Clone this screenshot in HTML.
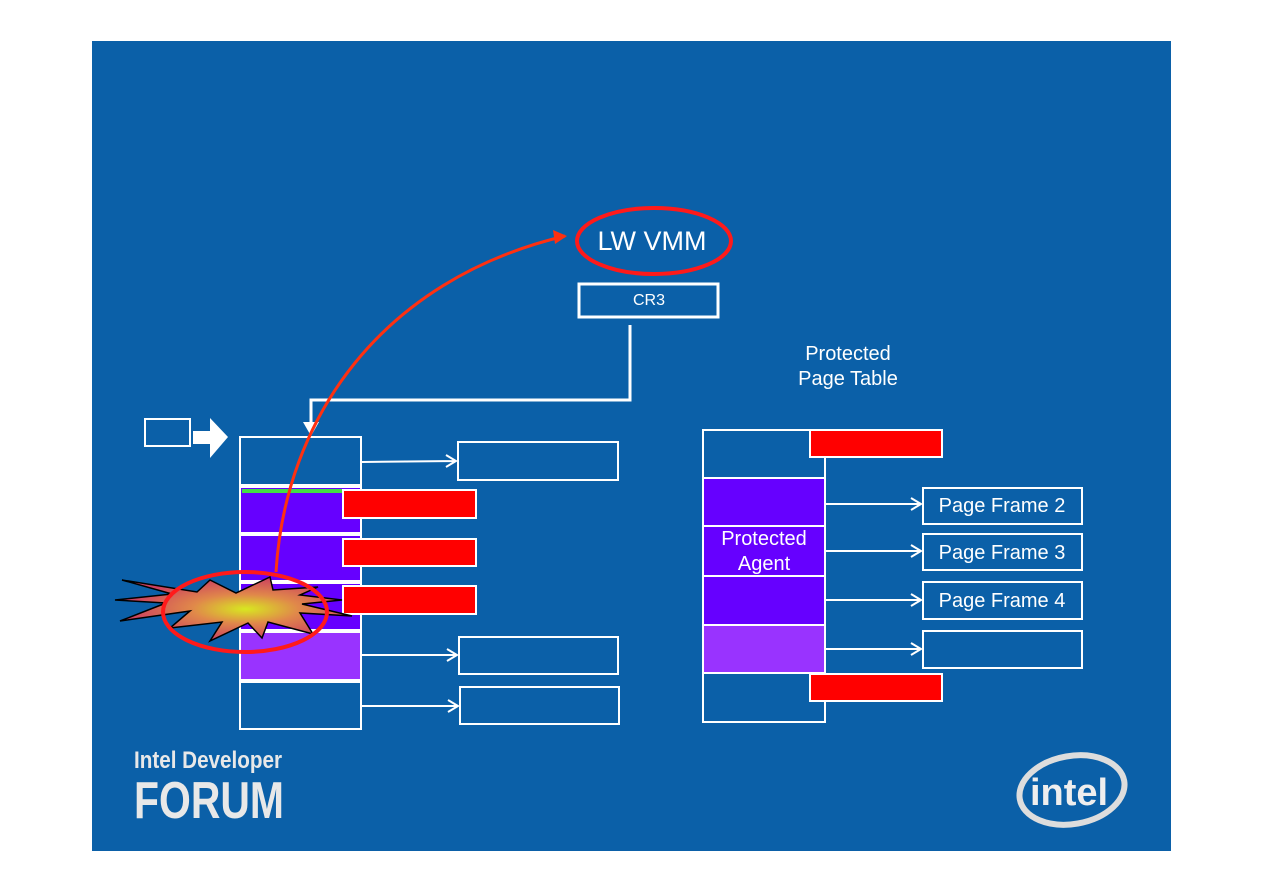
<!DOCTYPE html>
<html><head><style>
body{margin:0;background:#fff;width:1263px;height:893px;overflow:hidden}
svg{position:absolute;left:0;top:0}
text{font-family:"Liberation Sans",sans-serif;fill:#fff}
</style></head><body>
<svg width="1263" height="893">
<defs>
<radialGradient id="g" cx="0.55" cy="0.5" r="0.5"><stop offset="0" stop-color="#d8e820"/><stop offset="0.45" stop-color="#e0884a"/><stop offset="1" stop-color="#cc4060"/></radialGradient>
</defs>
<rect x="92" y="41" width="1079" height="810" fill="#0b60a8"/>
<g stroke="#fff" stroke-width="2">
<rect x="240" y="437" width="121" height="48" fill="none"/>
<rect x="240" y="487" width="121" height="46" fill="#6600ff"/>
<rect x="240" y="535" width="121" height="46" fill="#6600ff"/>
<rect x="240" y="583" width="121" height="47" fill="#6600ff"/>
<rect x="240" y="632" width="121" height="48" fill="#9933ff"/>
<rect x="240" y="682" width="121" height="47" fill="none"/>
</g>
<rect x="242" y="489" width="117" height="4" fill="#44dd44"/>
<g stroke="#fff" stroke-width="2">
<rect x="458" y="442" width="160" height="38" fill="none"/>
<rect x="459" y="637" width="159" height="37" fill="none"/>
<rect x="460" y="687" width="159" height="37" fill="none"/>
<rect x="145" y="419" width="45" height="27" fill="none"/>
<rect x="579" y="284" width="139" height="33" fill="none" stroke-width="3"/>
<rect x="703" y="430" width="122" height="48" fill="none"/>
<rect x="703" y="478" width="122" height="48" fill="#6600ff"/>
<rect x="703" y="526" width="122" height="50" fill="#6600ff"/>
<rect x="703" y="576" width="122" height="49" fill="#6600ff"/>
<rect x="703" y="625" width="122" height="48" fill="#9933ff"/>
<rect x="703" y="673" width="122" height="49" fill="none"/>
<rect x="923" y="488" width="159" height="36" fill="none"/>
<rect x="923" y="534" width="159" height="36" fill="none"/>
<rect x="923" y="582" width="159" height="37" fill="none"/>
<rect x="923" y="631" width="159" height="37" fill="none"/>
</g>
<g fill="#ff0000" stroke="#fff" stroke-width="2">
<rect x="343" y="490" width="133" height="28"/>
<rect x="343" y="539" width="133" height="27"/>
<rect x="343" y="586" width="133" height="28"/>
<rect x="810" y="430" width="132" height="27"/>
<rect x="810" y="674" width="132" height="27"/>
</g>
<g stroke="#fff" stroke-width="2" fill="none">
<path d="M362 462 L456 461 M446 455 L456 461 L446 467"/>
<path d="M362 655 L457 655 M447 649 L457 655 L447 661"/>
<path d="M362 706 L458 706 M448 700 L458 706 L448 712"/>
<path d="M826 504 L921 504 M911 498 L921 504 L911 510"/>
<path d="M826 551 L921 551 M911 545 L921 551 L911 557"/>
<path d="M826 600 L921 600 M911 594 L921 600 L911 606"/>
<path d="M826 649 L921 649 M911 643 L921 649 L911 655"/>
<path d="M630 325 L630 400 L311 400 L311 428" stroke-width="3"/>
</g>
<path d="M303 422 L311 436 L319 422 Z" fill="#fff"/>
<path d="M193 431 L210 431 L210 418 L228 437 L210 458 L210 444 L193 444 Z" fill="#fff"/>
<path d="M122 580 L197 592 L210 580 L236 593 L270 577 L273 590 L318 587 L300 595 L342 600 L302 604 L352 616 L300 613 L313 634 L268 622 L262 638 L248 623 L210 641 L222 622 L170 628 L190 611 L120 621 L166 603 L115 600 L172 594 Z" fill="url(#g)" stroke="#000" stroke-width="1.5"/>
<ellipse cx="245" cy="612" rx="82" ry="40" fill="none" stroke="#ff1a1a" stroke-width="4"/>
<path d="M276 572 C285 420 380 280 565 236" fill="none" stroke="#ff3010" stroke-width="3"/>
<path d="M553 230 L567 236 L555 244 Z" fill="#ff3010"/>
<ellipse cx="654" cy="241" rx="77" ry="33" fill="none" stroke="#ff1a1a" stroke-width="4"/>
<text x="652" y="250" font-size="27" text-anchor="middle">LW VMM</text>
<text x="649" y="305" font-size="16" text-anchor="middle">CR3</text>
<text x="848" y="360" font-size="20" text-anchor="middle">Protected</text>
<text x="848" y="385" font-size="20" text-anchor="middle">Page Table</text>
<text x="764" y="545" font-size="20" text-anchor="middle">Protected</text>
<text x="764" y="570" font-size="20" text-anchor="middle">Agent</text>
<text x="1002" y="512" font-size="20" text-anchor="middle">Page Frame 2</text>
<text x="1002" y="559" font-size="20" text-anchor="middle">Page Frame 3</text>
<text x="1002" y="607" font-size="20" text-anchor="middle">Page Frame 4</text>
<text x="134" y="768" font-size="24" font-weight="bold" style="fill:#e8e8e8" textLength="148" lengthAdjust="spacingAndGlyphs">Intel Developer</text>
<text x="134" y="818" font-size="52" font-weight="bold" style="fill:#e8e8e8" textLength="150" lengthAdjust="spacingAndGlyphs">FORUM</text>
<ellipse cx="1072" cy="790" rx="53" ry="34" fill="none" stroke="#ddd" stroke-width="6" transform="rotate(-10 1072 790)"/>
<text x="1030" y="805" font-size="38" font-weight="bold" style="fill:#eee">intel</text>
</svg>
</body></html>
